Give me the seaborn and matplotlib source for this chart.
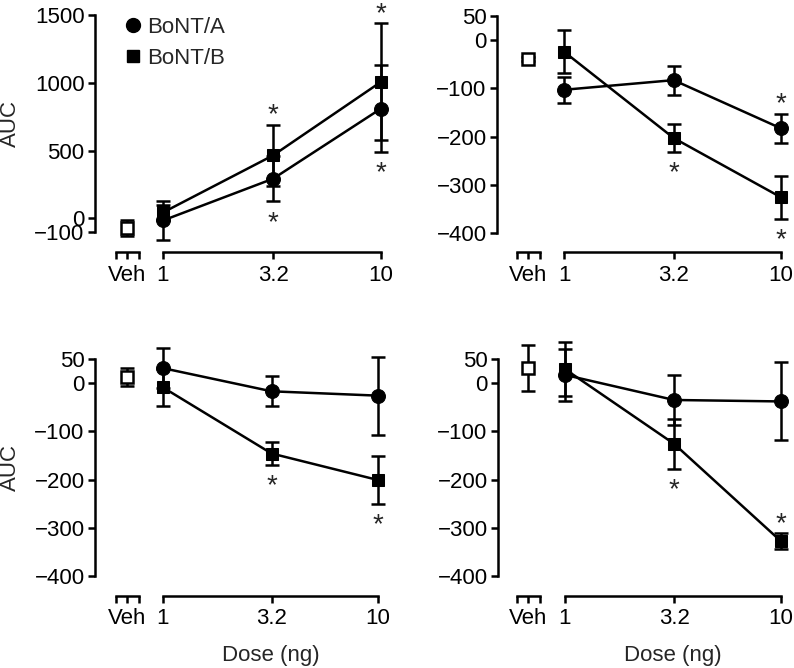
import matplotlib
matplotlib.use('Agg')
import matplotlib.pyplot as plt
from matplotlib.lines import Line2D
import seaborn as sns

sns.set_style('ticks')
plt.rcParams['font.family'] = ['Liberation Sans', 'DejaVu Sans']
plt.rcParams['font.size'] = 16

# Data (AUC, mean and error)
doses = [1, 3.2, 10]
dose_labels = ['1', '3.2', '10']

tl_a = [-15, 293, 810]
tl_a_err = [147, 168, 320]
tl_b = [44, 465, 1007]
tl_b_err = [52, 227, 431]
tl_veh = -69
tl_veh_err = 60

tr_a = [-103, -83, -183]
tr_a_err = [27, 30, 30]
tr_b = [-24, -203, -326]
tr_b_err = [45, 29, 44]
tr_veh = -40
tr_veh_err = 4

bl_a = [31, -17, -26]
bl_a_err = [41, 31, 81]
bl_b = [-9, -146, -201]
bl_b_err = [38, 23, 49]
bl_veh = 13
bl_veh_err = 19

br_a = [17, -35, -38]
br_a_err = [54, 52, 81]
br_b = [29, -126, -328]
br_b_err = [56, 52, 17]
br_veh = 31
br_veh_err = 47

# significance stars: (dose index, series, side)
tl_stars = [(1, 'B', 1), (1, 'A', -1), (2, 'B', 1), (2, 'A', -1)]
tr_stars = [(2, 'A', 1), (1, 'B', -1), (2, 'B', -1)]
bl_stars = [(1, 'B', -1), (2, 'B', -1)]
br_stars = [(1, 'B', -1), (2, 'B', 1)]

yticks_big = [-100, 0, 500, 1000, 1500]
yticks_small = [-400, -300, -200, -100, 0, 50]

LW = 1.8
W, H = 794, 668
fig = plt.figure(figsize=(W / 100, H / 100), dpi=100)


def px_axes(x0, x1, y0, y1):
    return fig.add_axes([x0 / W, 1 - y1 / H, (x1 - x0) / W, (y1 - y0) / H])


def no_clip(container):
    for part in container.lines:
        if part is None:
            continue
        items = part if isinstance(part, tuple) else (part,)
        for art in items:
            art.set_clip_on(False)


def panel(lay, a, a_err, b, b_err, veh, veh_err, stars, yticks, left_label, bottom_label):
    spine_x, top, bot, axis_y, veh_x, one_x, ten_x = lay
    ymin, ymax = yticks[0], yticks[-1]
    off = (axis_y - bot) * 0.72

    # vehicle axis (carries the y axis)
    ax_v = px_axes(spine_x, veh_x + 18, top, bot)
    ax_v.set_xlim((spine_x - veh_x) / 23, 18 / 23)
    ax_v.set_ylim(ymin, ymax)
    eb = ax_v.errorbar([0], [veh], yerr=[veh_err], fmt='s', mfc='white', mec='k', mew=LW,
                       ms=8.5, ecolor='k', elinewidth=LW, capsize=4.7, capthick=LW, zorder=3)
    no_clip(eb)
    ax_v.set_xticks([-0.5, 0, 0.5])
    ax_v.set_xticklabels(['', 'Veh', ''])
    ax_v.set_yticks(yticks)
    ax_v.spines['bottom'].set_bounds(-0.5, 0.5)
    ax_v.spines['bottom'].set_position(('outward', off))
    ax_v.spines['left'].set_bounds(ymin, ymax)
    sns.despine(ax=ax_v)
    if left_label:
        ax_v.set_ylabel('AUC', fontsize=16)
        ax_v.yaxis.set_label_coords((21 - spine_x) / (veh_x + 18 - spine_x), 0.5)

    # dose axis (log scale)
    span = ten_x - one_x
    ax = px_axes(one_x - 15, ten_x + 15, top, bot)
    ax.set_xscale('log')
    ax.set_xlim(10 ** (-15 / span), 10 ** (1 + 15 / span))
    ax.set_ylim(ymin, ymax)
    series = {'A': (a, a_err, 'o', 10), 'B': (b, b_err, 's', 9)}
    for key, (m, e, mk, ms) in series.items():
        eb = ax.errorbar(doses, m, yerr=e, fmt='none', ecolor='k', elinewidth=LW,
                         capsize=4.7, capthick=LW, zorder=2)
        no_clip(eb)
        sns.lineplot(x=doses, y=m, ax=ax, color='k', marker=mk, markersize=ms,
                     markeredgecolor='k', linewidth=LW, zorder=3, clip_on=False)
    for i, key, side in stars:
        m, e = series[key][0], series[key][1]
        dy = 6.7 if side > 0 else -15.6
        ax.annotate('*', (doses[i], m[i] + side * e[i]), xytext=(0, dy),
                    textcoords='offset points', ha='center', va='center',
                    fontsize=20, annotation_clip=False)
    ax.set_xticks(doses)
    ax.set_xticklabels(dose_labels)
    ax.xaxis.set_minor_locator(matplotlib.ticker.NullLocator())
    ax.set_yticks([])
    ax.spines['bottom'].set_bounds(1, 10)
    ax.spines['bottom'].set_position(('outward', off))
    sns.despine(ax=ax, left=True)
    if bottom_label:
        ax.set_xlabel('Dose (ng)', fontsize=16)
        ax.xaxis.set_label_coords(0.5, (bot - 645) / (bot - top))

    for axx in (ax_v, ax):
        axx.tick_params(length=5, width=LW, pad=2.5, labelsize=16, colors='k')
        axx.tick_params(axis='x', pad=4)
        for s in axx.spines.values():
            s.set_linewidth(LW)
            s.set_color('k')
        axx.patch.set_alpha(0)
    return ax


# layout in pixels: spine x, y top, y bottom, x-axis y, veh x, dose 1 x, dose 10 x
panel((95, 15, 232, 252, 127, 163, 381), tl_a, tl_a_err, tl_b, tl_b_err,
      tl_veh, tl_veh_err, tl_stars, yticks_big, True, False)
panel((497, 16, 233, 252, 528, 564, 781), tr_a, tr_a_err, tr_b, tr_b_err,
      tr_veh, tr_veh_err, tr_stars, yticks_small, False, False)
panel((95, 359, 576, 596, 127, 163, 378), bl_a, bl_a_err, bl_b, bl_b_err,
      bl_veh, bl_veh_err, bl_stars, yticks_small, True, True)
panel((498, 359, 576, 596, 528, 565, 781), br_a, br_a_err, br_b, br_b_err,
      br_veh, br_veh_err, br_stars, yticks_small, False, True)

handles = [Line2D([], [], marker='o', ls='none', color='k', ms=10, label='BoNT/A'),
           Line2D([], [], marker='s', ls='none', color='k', ms=9, label='BoNT/B')]
fig.legend(handles=handles, loc='upper left', bbox_to_anchor=(126 / W, 1 - 17 / H),
           frameon=False, handlelength=0.6, handletextpad=0.35, borderaxespad=0,
           borderpad=0, labelspacing=0.45, fontsize=16)

fig.savefig('out.png', dpi=100)
